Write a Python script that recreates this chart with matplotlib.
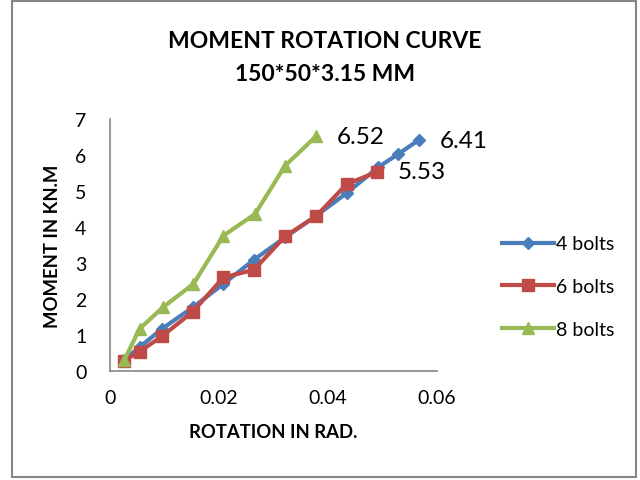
import matplotlib.pyplot as plt
from matplotlib.patches import Rectangle

plt.rcParams['font.family'] = ['Lato', 'DejaVu Sans']

# moment-rotation test data
rot_4 = [0.0025, 0.0054, 0.0095, 0.0152, 0.0208, 0.0264, 0.0321, 0.0378, 0.0434, 0.0492, 0.0529, 0.0566]
mom_4 = [0.30, 0.66, 1.17, 1.77, 2.42, 3.09, 3.71, 4.31, 4.94, 5.66, 6.03, 6.41]

rot_6 = [0.0026, 0.0054, 0.0095, 0.0152, 0.0208, 0.0264, 0.0321, 0.0378, 0.0434, 0.0490]
mom_6 = [0.29, 0.54, 0.96, 1.65, 2.60, 2.81, 3.74, 4.30, 5.19, 5.53]

rot_8 = [0.0026, 0.0054, 0.0097, 0.0153, 0.0208, 0.0266, 0.0321, 0.0378]
mom_8 = [0.30, 1.17, 1.77, 2.42, 3.76, 4.36, 5.70, 6.52]

labels = ["4 bolts", "6 bolts", "8 bolts"]
colors = ["#4a7ebb", "#be4b48", "#98b954"]

fig = plt.figure(figsize=(6.4, 4.81), dpi=100)
ax = fig.add_axes([0.172, 0.2266, 0.511, 0.524])

ax.plot(rot_4, mom_4, color=colors[0], lw=3, marker="D", ms=6, label=labels[0])
ax.plot(rot_6, mom_6, color=colors[1], lw=3, marker="s", ms=9, label=labels[1])
ax.plot(rot_8, mom_8, color=colors[2], lw=3, marker="^", ms=9, label=labels[2])

# end-point value labels
for xs, ys in [(rot_8, mom_8), (rot_4, mom_4), (rot_6, mom_6)]:
    ax.annotate("%.2f" % ys[-1], (xs[-1], ys[-1]), xytext=(15, 0),
                textcoords="offset points", va="center", ha="left", fontsize=17.5)

ax.set_xlim(0, 0.06)
ax.set_ylim(0, 7)
ax.set_xticks([0, 0.02, 0.04, 0.06])
ax.set_xticklabels(["0", "0.02", "0.04", "0.06"])
ax.set_yticks(range(8))
ax.tick_params(length=0, labelsize=14, pad=13)
ax.tick_params(axis="y", pad=17)
for s in ["top", "right"]:
    ax.spines[s].set_visible(False)
for s in ["left", "bottom"]:
    ax.spines[s].set_color("#868686")
    ax.spines[s].set_linewidth(1.2)

ax.set_xlabel("ROTATION IN RAD.", fontsize=13.3, fontweight="bold", labelpad=12)
ax.set_ylabel("MOMENT IN KN.M", fontsize=13.3, fontweight="bold", labelpad=10)

fig.text(0.508, 0.914, "MOMENT ROTATION CURVE", ha="center", va="center",
         fontsize=16.5, fontweight="bold")
fig.text(0.508, 0.846, "150*50*3.15 MM", ha="center", va="center",
         fontsize=16.5, fontweight="bold")

fig.legend(loc="center left", bbox_to_anchor=(0.757, 0.402), frameon=False,
           fontsize=14, handlelength=2.7, handletextpad=0.1, labelspacing=1.32)

fig.add_artist(Rectangle((0.018, 0.006), 0.976, 0.99, transform=fig.transFigure,
                         fill=False, edgecolor="#868686", lw=1.5))

fig.savefig("out.png", dpi=100)
